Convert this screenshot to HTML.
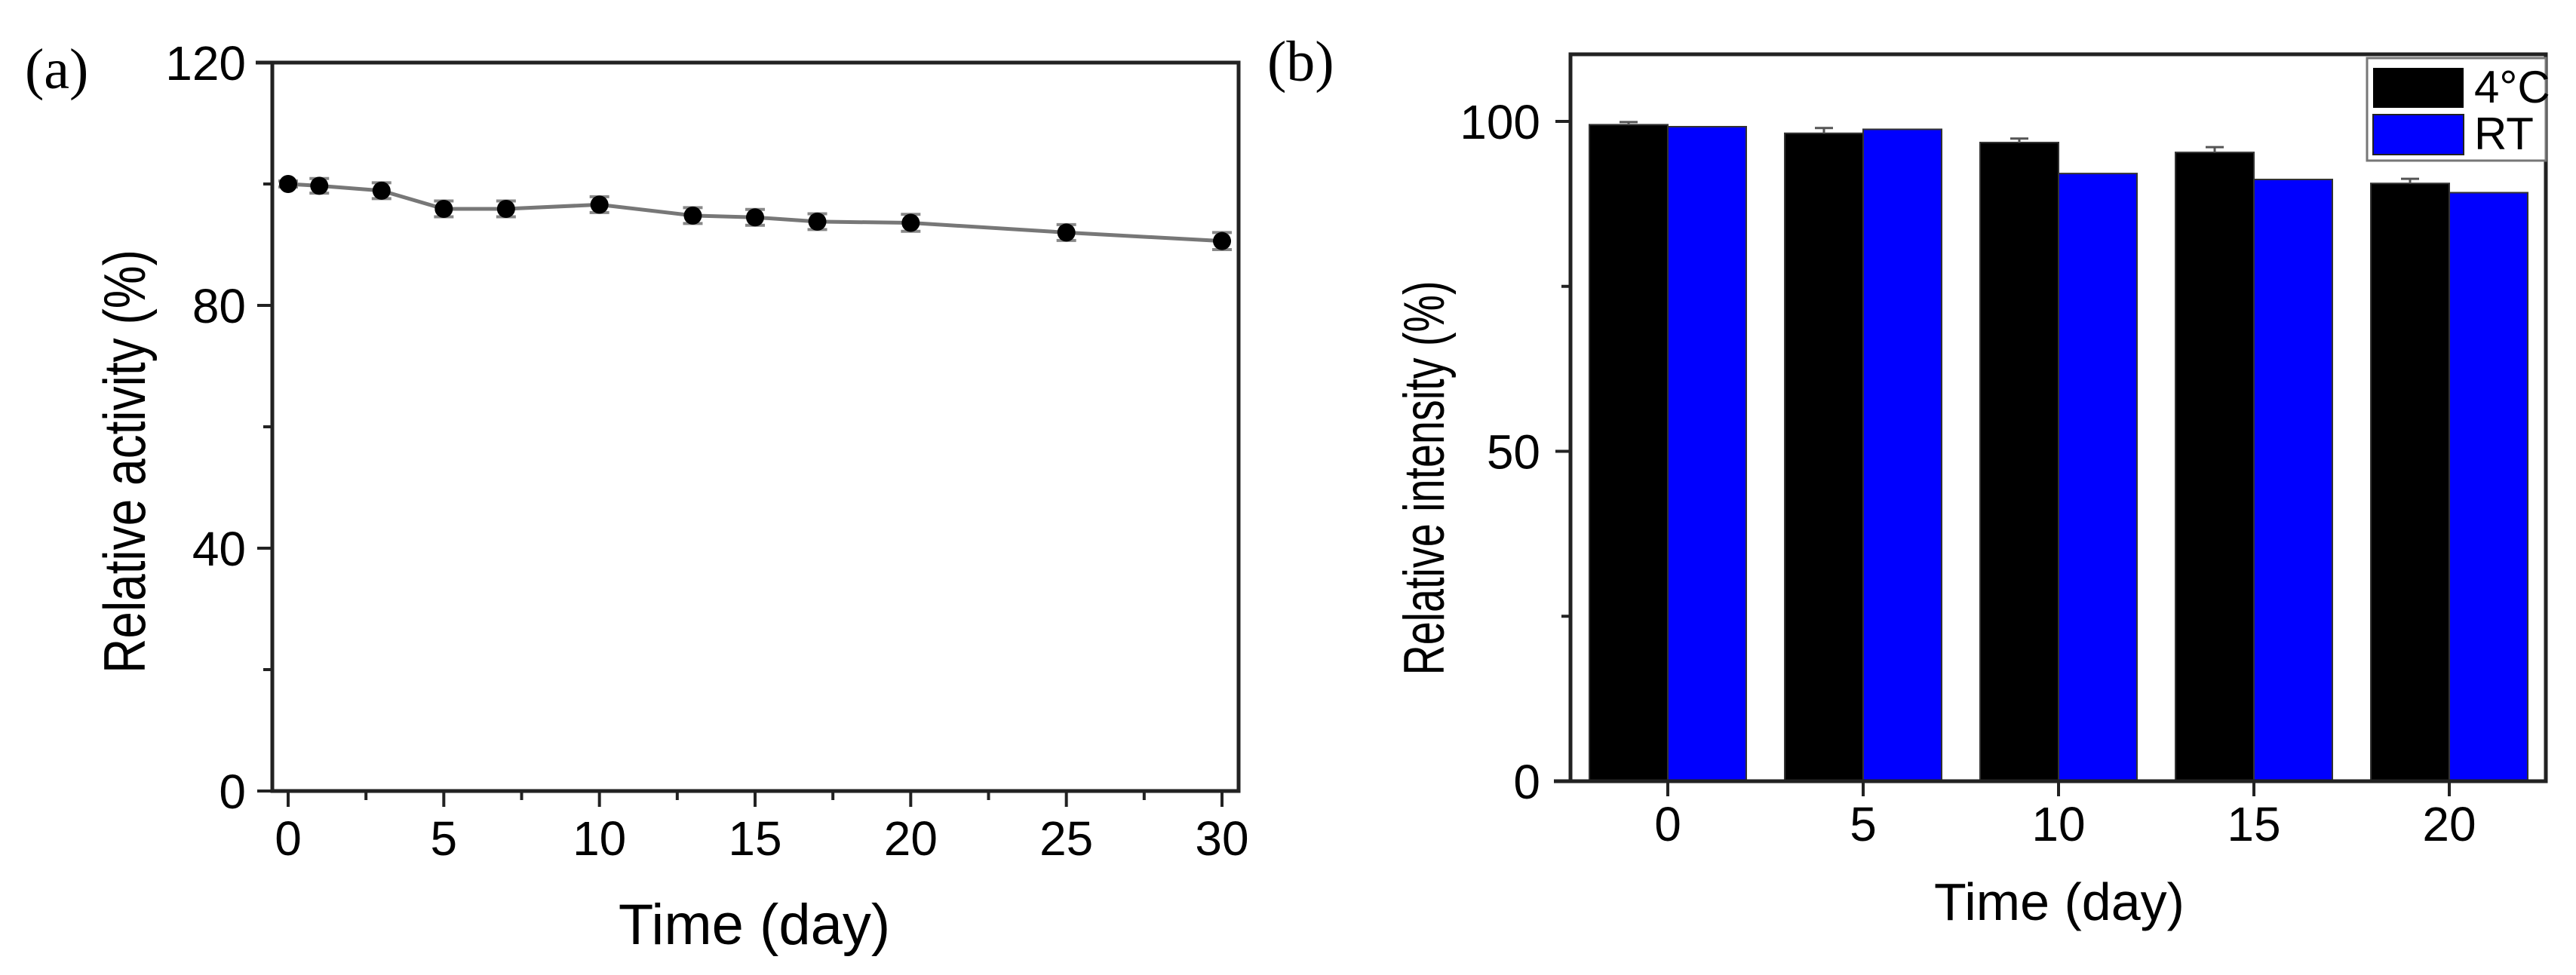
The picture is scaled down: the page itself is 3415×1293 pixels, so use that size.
<!DOCTYPE html>
<html><head><meta charset="utf-8"><style>
html,body{margin:0;padding:0;background:#fff;}
svg{display:block;font-family:"Liberation Sans",sans-serif;}
</style></head><body>
<svg id="fig" width="3415" height="1293" viewBox="0 0 3415 1293">
<g id="pa"></g>
<g id="pb"></g>
</svg>
<script>
// Panel (a) data
const daysA = [0,1,3,5,7,10,13,15,17,20,25,30];
const activityA = [100,99.7,98.9,95.9,95.9,96.6,94.8,94.5,93.8,93.6,92.0,90.6];
const errA = [0.5,1.2,1.3,1.3,1.3,1.3,1.3,1.3,1.3,1.4,1.3,1.4];
const xTicksA = [0,5,10,15,20,25,30];
const yTicksA = [0,40,80,120];
// Panel (b) data
const daysB = ["0","5","10","15","20"];
const cold = [99.5,98.2,96.8,95.3,90.6];
const coldErr = [0.4,0.8,0.6,0.8,0.7];
const rt = [99.2,98.8,92.1,91.2,89.2];
const yTicksB = [0,50,100];
const legendB = ["4°C","RT"];

const NS="http://www.w3.org/2000/svg";
function mk(parent,tag,attrs,name,text){
  const e=document.createElementNS(NS,tag);
  for(const k in attrs) e.setAttribute(k,attrs[k]);
  
  
  if(text!==undefined) e.textContent=text;
  parent.appendChild(e); return e;
}
// ---- Panel A ----
const pa=document.getElementById('pa');
const aL=361,aR=1642,aT=83,aB=1049;
const xA=v=>382+(v-0)*(1620-382)/30;
const yA=v=>aB-(v/120)*(aB-aT);
mk(pa,'text',{x:33,y:117,'font-size':76,'font-family':'Liberation Serif, serif'},'panel-a-label','(a)');
mk(pa,'rect',{x:aL,y:aT,width:aR-aL,height:aB-aT,fill:'none',stroke:'#222','stroke-width':5},'plot-frame-a');
mk(pa,'line',{x1:aL-22,y1:aT,x2:aL,y2:aT,stroke:'#222','stroke-width':5},'y-tick-top');
yTicksA.forEach(v=>{
  mk(pa,'line',{x1:aL-20,y1:yA(v),x2:aL,y2:yA(v),stroke:'#222','stroke-width':4},'y-tick');
  mk(pa,'text',{x:aL-35,y:yA(v)+23,'font-size':64,'text-anchor':'end'},'y-tick-label',String(v));
});
for(let v=20;v<120;v+=40){mk(pa,'line',{x1:aL-12,y1:yA(v),x2:aL,y2:yA(v),stroke:'#222','stroke-width':4},'y-minor-tick');}
xTicksA.forEach(v=>{
  mk(pa,'line',{x1:xA(v),y1:aB,x2:xA(v),y2:aB+21,stroke:'#222','stroke-width':4},'x-tick');
  mk(pa,'text',{x:xA(v),y:aB+85,'font-size':64,'text-anchor':'middle'},'x-tick-label',String(v));
});
for(let v=2.5;v<30;v+=5){mk(pa,'line',{x1:xA(v),y1:aB,x2:xA(v),y2:aB+12,stroke:'#222','stroke-width':4},'x-minor-tick');}
mk(pa,'text',{x:1000,y:1252,'font-size':76,'text-anchor':'middle'},'x-axis-title','Time (day)');
mk(pa,'text',{x:0,y:0,'font-size':78,'text-anchor':'middle',textLength:562,lengthAdjust:'spacingAndGlyphs',transform:'translate(192,612) rotate(-90)'},'y-axis-title','Relative activity (%)');
mk(pa,'polyline',{points:daysA.map((d,i)=>xA(d)+','+yA(activityA[i])).join(' '),fill:'none',stroke:'#777','stroke-width':5},'activity-line');
daysA.forEach((d,i)=>{
  const x=xA(d),y1=yA(activityA[i]+errA[i]),y2=yA(activityA[i]-errA[i]);
  mk(pa,'line',{x1:x,y1:y1,x2:x,y2:y2,stroke:'#888','stroke-width':4},'error-bar');
  mk(pa,'line',{x1:x-13,y1:y1,x2:x+13,y2:y1,stroke:'#888','stroke-width':4},'error-cap');
  mk(pa,'line',{x1:x-13,y1:y2,x2:x+13,y2:y2,stroke:'#888','stroke-width':4},'error-cap');
  mk(pa,'circle',{cx:x,cy:yA(activityA[i]),r:12,fill:'#000'},'data-point');
});
// ---- Panel B ----
const pb=document.getElementById('pb');
const bL=2082,bR=3375,bT=72,bB=1036;
const yB=v=>bB-v*(bB-161)/100;
const cx=i=>2211+i*259;
const bw=104;
mk(pb,'text',{x:1680,y:107,'font-size':76,'font-family':'Liberation Serif, serif'},'panel-b-label','(b)');
daysB.forEach((d,i)=>{
  mk(pb,'rect',{x:cx(i)-bw,y:yB(cold[i]),width:bw,height:bB-yB(cold[i]),fill:'#000',stroke:'#333','stroke-width':2},'bar-4c-day'+d);
  mk(pb,'rect',{x:cx(i),y:yB(rt[i]),width:bw,height:bB-yB(rt[i]),fill:'#0000ff',stroke:'#333','stroke-width':2},'bar-rt-day'+d);
  const ex=cx(i)-bw/2,ey=yB(cold[i]+coldErr[i]);
  mk(pb,'line',{x1:ex,y1:ey,x2:ex,y2:yB(cold[i]),stroke:'#555','stroke-width':3},'error-bar');
  mk(pb,'line',{x1:ex-12,y1:ey,x2:ex+12,y2:ey,stroke:'#555','stroke-width':3},'error-cap');
  mk(pb,'line',{x1:cx(i),y1:bB,x2:cx(i),y2:bB+20,stroke:'#222','stroke-width':4},'x-tick');
  mk(pb,'text',{x:cx(i),y:bB+79,'font-size':64,'text-anchor':'middle'},'x-tick-label',d);
});
mk(pb,'rect',{x:bL,y:bT,width:bR-bL,height:bB-bT,fill:'none',stroke:'#222','stroke-width':5},'plot-frame-b');
mk(pb,'line',{x1:bL-22,y1:bB,x2:bL,y2:bB,stroke:'#222','stroke-width':5},'y-tick-zero');
yTicksB.forEach(v=>{
  mk(pb,'line',{x1:bL-20,y1:yB(v),x2:bL,y2:yB(v),stroke:'#222','stroke-width':4},'y-tick');
  mk(pb,'text',{x:bL-40,y:yB(v)+23,'font-size':64,'text-anchor':'end'},'y-tick-label',String(v));
});
[25,75].forEach(v=>mk(pb,'line',{x1:bL-12,y1:yB(v),x2:bL,y2:yB(v),stroke:'#222','stroke-width':4},'y-minor-tick'));
mk(pb,'text',{x:2730,y:1220,'font-size':70,'text-anchor':'middle'},'x-axis-title','Time (day)');
mk(pb,'text',{x:0,y:0,'font-size':76,'text-anchor':'middle',textLength:523,lengthAdjust:'spacingAndGlyphs',transform:'translate(1914,634) rotate(-90)'},'y-axis-title','Relative intensity (%)');
const lg=mk(pb,'g',{},'legend');
mk(lg,'rect',{x:3138,y:77,width:237,height:136,fill:'#fff',stroke:'#777','stroke-width':3},'legend-box');
mk(lg,'rect',{x:3146,y:90,width:120,height:53,fill:'#000'},'legend-swatch-4c');
mk(lg,'rect',{x:3146,y:152,width:120,height:53,fill:'#0000ff',stroke:'#222','stroke-width':2},'legend-swatch-rt');
mk(lg,'text',{x:3280,y:136,'font-size':60},'legend-label-4c',legendB[0]);
mk(lg,'text',{x:3280,y:198,'font-size':60},'legend-label-rt',legendB[1]);
</script>
</body></html>
